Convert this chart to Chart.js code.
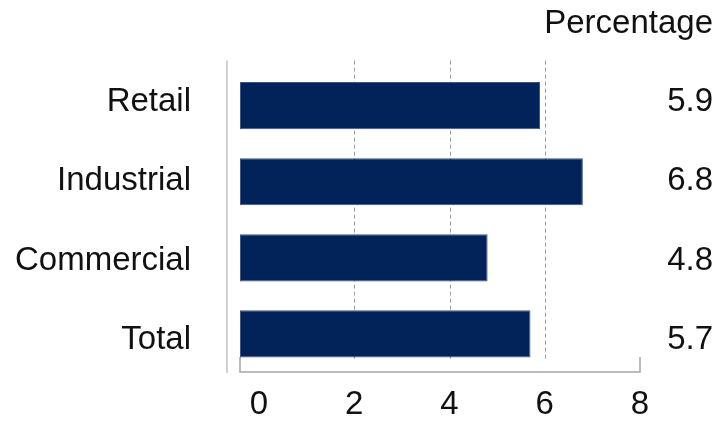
<!DOCTYPE html>
<html>
<head>
<meta charset="utf-8">
<script src="https://cdn.jsdelivr.net/npm/chart.js@4"></script>
<style>
  html, body { margin: 0; padding: 0; background: #fff; }
  #wrap { width: 721px; height: 422px; }
</style>
</head>
<body>
<div id="wrap"><canvas id="sectorChart"></canvas></div>
<script>
const categories = ["Retail", "Industrial", "Commercial", "Total"];
const percentages = [5.9, 6.8, 4.8, 5.7];
const xTicks = [0, 2, 4, 6, 8];
const xMin = -0.4;
const xMax = 8;

const labelFont = { family: "'Liberation Sans', Arial, sans-serif", size: 33, weight: "normal" };
const textColor = "#111";

// row labels sit on a slightly wider pitch than the bars
const rowIndex = categories.map((_, i) => i);
const rowMin = -0.43;
const rowMax = 3.40;

// dashed guides, left rule and the bracket-shaped value axis
const frameLines = {
  id: "frameLines",
  beforeDatasetsDraw(chart) {
    const { ctx, chartArea: a, scales: { x } } = chart;
    ctx.save();
    ctx.strokeStyle = "#9a9a9a";
    ctx.lineWidth = 1;
    ctx.setLineDash([4, 3]);
    xTicks.slice(1, -1).forEach(v => {
      const px = Math.round(x.getPixelForValue(v)) + 0.5;
      ctx.beginPath();
      ctx.moveTo(px, a.top - 7);
      ctx.lineTo(px, a.bottom - 13);
      ctx.stroke();
    });
    ctx.setLineDash([]);

    ctx.strokeStyle = "#d2d2d2";
    ctx.lineWidth = 2;
    ctx.beginPath();
    ctx.moveTo(a.left - 13, a.top - 7);
    ctx.lineTo(a.left - 13, a.bottom + 1);
    ctx.stroke();

    ctx.strokeStyle = "#a8a8a8";
    ctx.lineWidth = 1.5;
    ctx.beginPath();
    ctx.moveTo(a.left, a.bottom - 15);
    ctx.lineTo(a.left, a.bottom);
    ctx.lineTo(a.right, a.bottom);
    ctx.lineTo(a.right, a.bottom - 15);
    ctx.stroke();
    ctx.restore();
  }
};

// linear axis used only to place a column of row labels
function rowAxis(position, extra) {
  return Object.assign({
    type: "linear",
    position,
    reverse: true,
    offset: false,
    bounds: "data",
    min: rowMin,
    max: rowMax,
    afterBuildTicks: s => { s.ticks = rowIndex.map(v => ({ value: v })); },
    grid: { display: false },
    border: { display: false }
  }, extra);
}

new Chart(document.getElementById("sectorChart"), {
  type: "bar",
  data: {
    labels: categories,
    datasets: [{
      label: "Percentage",
      data: percentages,
      base: xMin,
      backgroundColor: "#02235a",
      borderColor: "#3d5585",
      borderWidth: 1,
      borderSkipped: false,
      categoryPercentage: 1,
      barPercentage: 0.62
    }]
  },
  options: {
    indexAxis: "y",
    responsive: true,
    maintainAspectRatio: false,
    animation: false,
    layout: { padding: { left: 0, right: 8, top: 0, bottom: 0 } },
    plugins: {
      legend: { display: false },
      tooltip: { enabled: false },
      title: {
        display: true,
        text: "Percentage",
        align: "end",
        color: textColor,
        font: labelFont,
        padding: { top: 4, bottom: 24 }
      }
    },
    scales: {
      x: {
        type: "linear",
        min: xMin,
        max: xMax,
        afterBuildTicks: s => { s.ticks = xTicks.map(v => ({ value: v })); },
        grid: { display: false, drawTicks: false },
        border: { display: false },
        ticks: { color: textColor, font: labelFont, padding: 13 },
        afterFit: s => { s.height = 50; }
      },
      y: { display: false },
      yNames: rowAxis("left", {
        grid: { display: false, tickLength: 49 },
        ticks: { color: textColor, font: labelFont, padding: 0, callback: v => categories[v] },
        afterFit: s => { s.width = 240; }
      }),
      yValues: rowAxis("right", {
        ticks: { color: textColor, font: labelFont, crossAlign: "far", callback: v => percentages[v].toFixed(1) },
        afterFit: s => { s.width = 73; }
      })
    }
  },
  plugins: [frameLines]
});
</script>
</body>
</html>
